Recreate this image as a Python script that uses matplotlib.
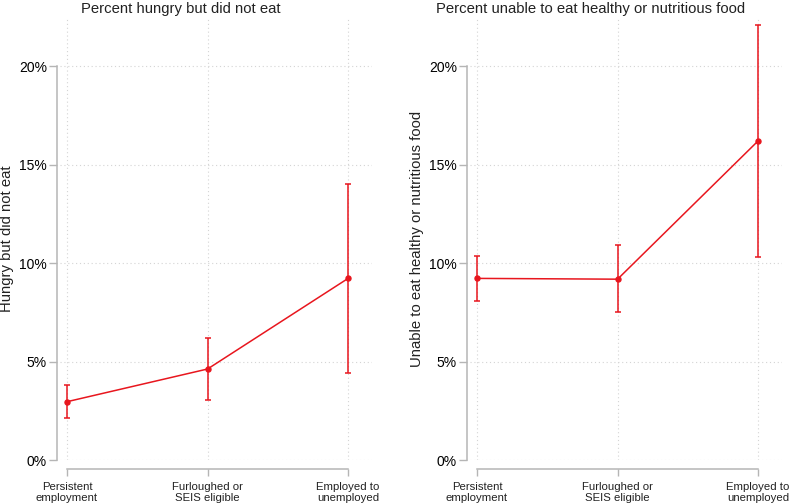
import numpy as np
import matplotlib
matplotlib.use('Agg')
import matplotlib.pyplot as plt
from matplotlib.transforms import blended_transform_factory

plt.rcParams['font.family'] = ['Liberation Sans', 'DejaVu Sans']

# data (percent)
groups = ['Persistent\nemployment', 'Furloughed or\nSEIS eligible', 'Employed to\nunemployed']
hungry = [2.96, 4.62, 9.22]
hungry_lo = [2.15, 3.05, 4.43]
hungry_hi = [3.80, 6.17, 14.03]
unhealthy = [9.22, 9.18, 16.20]
unhealthy_lo = [8.08, 7.50, 10.30]
unhealthy_hi = [10.37, 10.90, 22.10]
yticks = [0, 5, 10, 15, 20]

red = '#e8161e'
axis_col = '#b5b5b5'
text_col = '#222222'

W, H = 791, 504
PT = 0.72  # points per pixel at dpi 100
fig = plt.figure(figsize=(W / 100, H / 100), dpi=100)

def make_axes(left_px):
    return fig.add_axes([left_px / W, (H - 460) / H, 312 / W, 442 / H])

panels = [
    (60, 'Percent hungry but did not eat', 'Hungry but did not eat',
     hungry, hungry_lo, hungry_hi, 181),
    (470, 'Percent unable to eat healthy or nutritious food',
     'Unable to eat healthy or nutritious food',
     unhealthy, unhealthy_lo, unhealthy_hi, 591),
]

for left_px, title, ylab, vals, lo, hi, title_x in panels:
    ax = make_axes(left_px)
    x = np.arange(len(groups))
    vals = np.array(vals)
    err = [vals - np.array(lo), np.array(hi) - vals]
    ax.errorbar(x, vals, yerr=err, color=red, lw=1.1, elinewidth=1.1,
                capsize=3.2 * PT, capthick=1.1, marker='o', ms=5 * PT,
                mfc=red, mec=red, zorder=3)

    ax.set_xlim(-0.05, 2.17)
    ax.set_ylim(0, 22.44)
    ax.set_xticks(x)
    ax.set_xticklabels([])
    # two-line category labels, bottom-anchored so they stay inside the figure
    tr = blended_transform_factory(ax.transData, fig.transFigure)
    for xi, g in zip(x, groups):
        ax.text(xi, 1.0 / H, g, transform=tr, ha='center', va='bottom',
                fontsize=8.2, color=text_col, linespacing=1.08)
    ax.set_yticks(yticks)
    ax.set_yticklabels([f'{t}%' for t in yticks], fontsize=8.3, color=text_col)

    ax.grid(True, color='#d4d4d4', ls=(0, (1, 2.5)), lw=0.8)
    ax.set_axisbelow(True)

    for s in ['top', 'right']:
        ax.spines[s].set_visible(False)
    ax.spines['left'].set_position(('outward', 3 * PT))
    ax.spines['left'].set_bounds(0, 20)
    ax.spines['bottom'].set_position(('outward', 9 * PT))
    ax.spines['bottom'].set_bounds(0, 2)
    for s in ['left', 'bottom']:
        ax.spines[s].set_color(axis_col)
        ax.spines[s].set_linewidth(1.1)
    ax.tick_params(axis='y', length=8 * PT, width=1, color=axis_col, pad=2 * PT)
    ax.tick_params(axis='x', length=6.5 * PT, width=1, color=axis_col)

    ax.set_ylabel(ylab, fontsize=10.7, color=text_col)
    ax.yaxis.set_label_coords(-0.147, 0.5)
    fig.text(title_x / W, 1 - 9 / H, title, fontsize=10.7, color=text_col,
             ha='center', va='center')

fig.savefig('out.png', dpi=100, facecolor='white')
